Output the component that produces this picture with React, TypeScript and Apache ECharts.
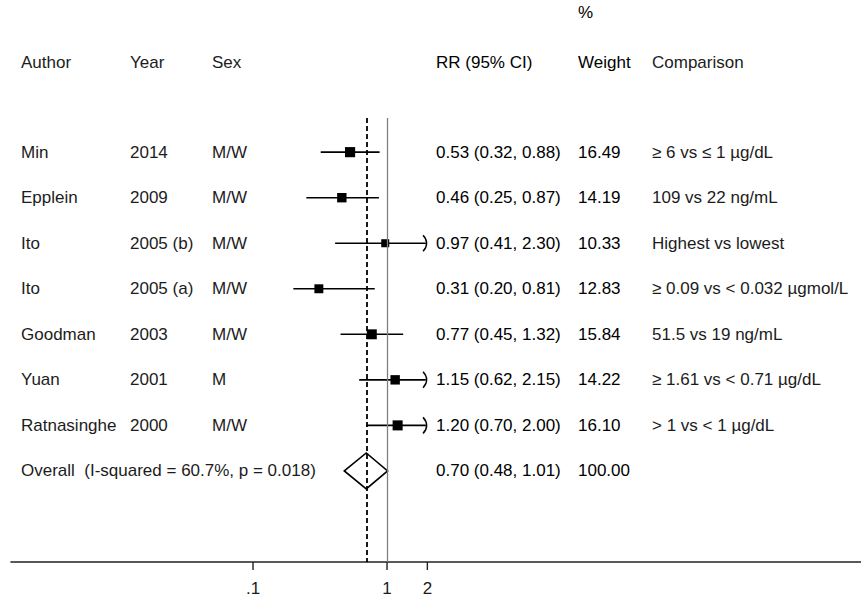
import React, { useEffect, useRef } from "react";
import * as echarts from "echarts";

// ---------- data ----------
const authors = ["Min", "Epplein", "Ito", "Ito", "Goodman", "Yuan", "Ratnasinghe"];
const years = ["2014", "2009", "2005 (b)", "2005 (a)", "2003", "2001", "2000"];
const sexes = ["M/W", "M/W", "M/W", "M/W", "M/W", "M", "M/W"];
const rr = [0.53, 0.46, 0.97, 0.31, 0.77, 1.15, 1.2];
const lower = [0.32, 0.25, 0.41, 0.2, 0.45, 0.62, 0.7];
const upper = [0.88, 0.87, 2.3, 0.81, 1.32, 2.15, 2.0];
const weights = [16.49, 14.19, 10.33, 12.83, 15.84, 14.22, 16.1];
const comparisons = [
  "≥ 6 vs ≤ 1 µg/dL",
  "109 vs 22 ng/mL",
  "Highest vs lowest",
  "≥ 0.09 vs < 0.032 µgmol/L",
  "51.5 vs 19 ng/mL",
  "≥ 1.61 vs < 0.71 µg/dL",
  "> 1 vs < 1 µg/dL",
];
const overallLabel = "Overall  (I-squared = 60.7%, p = 0.018)";
const overallRR = 0.7;
const overallLower = 0.48;
const overallUpper = 1.01;
const overallWeight = 100.0;
const xTicks = [0.1, 1, 2];
const xTickLabels = [".1", "1", "2"];
const headerLabels = ["Author", "Year", "Sex", "RR (95% CI)", "Weight", "Comparison"];
const weightHeaderTop = "%";
const ciDisplayMax = 2;

// ---------- layout / style ----------
const FONT = '"Liberation Sans", Arial, Helvetica, sans-serif';
const FS = 17;
const COL_X = [21, 130, 212, 436, 578, 652];
const DARK = "#000";
const SOFT = "#1c1c1c";

const fmt = (v: number) => v.toFixed(2);

export default function App() {
  const ref = useRef<HTMLDivElement>(null);

  useEffect(() => {
    document.body.style.margin = "0";
    const chart = echarts.init(ref.current!, undefined, { renderer: "svg" });

    const txt = (x: number, y: number, text: string, fill: string, align = "left") => ({
      type: "text",
      style: {
        text,
        x,
        y,
        fill,
        font: `${FS}px ${FONT}`,
        align,
        verticalAlign: "middle",
      },
    });

    const rowsCount = authors.length;
    const tableData = [] as number[][];
    for (let i = 0; i <= rowsCount; i++) tableData.push([1, i]);

    const option: any = {
      animation: false,
      backgroundColor: "#fff",
      grid: { left: 11, right: 0, top: 118, bottom: 36 },
      xAxis: {
        type: "log",
        logBase: 10,
        min: Math.pow(10, -2.806),
        max: Math.pow(10, 3.537),
        axisLine: { show: true, onZero: false, lineStyle: { color: "#222", width: 1.6 } },
        axisTick: { show: false },
        axisLabel: { show: false },
        splitLine: { show: false },
      },
      yAxis: {
        type: "value",
        inverse: true,
        min: -0.75,
        max: 9,
        show: false,
        splitLine: { show: false },
      },
      graphic: [
        {
          type: "group",
          children: [
            {
              type: "text",
              x: COL_X[4],
              y: 12,
              style: { text: weightHeaderTop, fill: DARK, font: `${FS}px ${FONT}`, verticalAlign: "middle" },
            },
            ...headerLabels.map((h, k) => ({
              type: "text",
              x: COL_X[k],
              y: 62,
              style: {
                text: h,
                fill: k === 3 || k === 4 ? DARK : SOFT,
                font: `${FS}px ${FONT}`,
                verticalAlign: "middle",
              },
            })),
          ],
        },
      ],
      series: [
        {
          type: "custom",
          name: "studies",
          coordinateSystem: "cartesian2d",
          clip: false,
          data: rr.map((v, i) => [v, i, lower[i], upper[i], weights[i]]),
          encode: { x: 0, y: 1 },
          renderItem: (params: any, api: any) => {
            const i = api.value(1);
            const p = api.coord([api.value(0), i]);
            const y = p[1];
            const xl = api.coord([api.value(2), i])[0];
            const hi = api.value(3);
            const clipped = hi >= ciDisplayMax;
            const xhRaw = api.coord([Math.min(hi, ciDisplayMax), i])[0];
            const xh = clipped ? xhRaw - 1.5 : xhRaw;
            const s = 2.5 * Math.sqrt(api.value(4));
            const children: any[] = [
              {
                type: "line",
                shape: { x1: xl, y1: y, x2: xh, y2: y },
                style: { stroke: "#000", lineWidth: 1.6 },
              },
              {
                type: "rect",
                shape: { x: p[0] - s / 2, y: y - s / 2, width: s, height: s },
                style: { fill: "#000" },
              },
            ];
            if (clipped) {
              children.push({
                type: "bezierCurve",
                shape: {
                  x1: xhRaw - 4.3,
                  y1: y - 8,
                  x2: xhRaw - 4.3,
                  y2: y + 8,
                  cpx1: xhRaw + 0.4,
                  cpy1: y - 3,
                  cpx2: xhRaw + 0.4,
                  cpy2: y + 3,
                },
                style: { stroke: "#000", fill: "none", lineWidth: 1.5 },
              });
            }
            return { type: "group", children };
          },
          markLine: {
            silent: true,
            symbol: "none",
            label: { show: false },
            data: [
              { xAxis: 1, lineStyle: { color: "#808080", width: 1.3, type: "solid" } },
              { xAxis: overallRR, lineStyle: { color: "#000", width: 1.8, type: [5, 3] } },
            ],
          },
          z: 3,
        },
        {
          type: "custom",
          name: "overall",
          coordinateSystem: "cartesian2d",
          clip: false,
          data: [[overallRR, rowsCount, overallLower, overallUpper]],
          encode: { x: 0, y: 1 },
          renderItem: (params: any, api: any) => {
            const r = api.value(1);
            const c = api.coord([api.value(0), r]);
            const l = api.coord([api.value(2), r]);
            const h = api.coord([api.value(3), r]);
            const hh = 18;
            return {
              type: "polygon",
              shape: {
                points: [
                  [l[0], c[1]],
                  [c[0], c[1] - hh],
                  [h[0], c[1]],
                  [c[0], c[1] + hh],
                ],
              },
              style: { fill: "none", stroke: "#000", lineWidth: 1.6 },
            };
          },
          z: 4,
        },
        {
          type: "custom",
          name: "table",
          coordinateSystem: "cartesian2d",
          clip: false,
          silent: true,
          data: tableData,
          encode: { x: 0, y: 1 },
          renderItem: (params: any, api: any) => {
            const i = api.value(1);
            const y = api.coord([1, i])[1];
            if (i < rowsCount) {
              return {
                type: "group",
                children: [
                  txt(COL_X[0], y, authors[i], SOFT),
                  txt(COL_X[1], y, years[i], SOFT),
                  txt(COL_X[2], y, sexes[i], SOFT),
                  txt(COL_X[3], y, `${fmt(rr[i])} (${fmt(lower[i])}, ${fmt(upper[i])})`, DARK),
                  txt(COL_X[4], y, fmt(weights[i]), DARK),
                  txt(COL_X[5], y, comparisons[i], SOFT),
                ],
              };
            }
            return {
              type: "group",
              children: [
                txt(COL_X[0], y, overallLabel, SOFT),
                txt(COL_X[3], y, `${fmt(overallRR)} (${fmt(overallLower)}, ${fmt(overallUpper)})`, DARK),
                txt(COL_X[4], y, fmt(overallWeight), DARK),
              ],
            };
          },
          z: 5,
        },
        {
          type: "custom",
          name: "xticks",
          coordinateSystem: "cartesian2d",
          clip: false,
          silent: true,
          data: xTicks.map((v) => [v, 9]),
          encode: { x: 0, y: 1 },
          renderItem: (params: any, api: any) => {
            const p = api.coord([api.value(0), api.value(1)]);
            return {
              type: "group",
              children: [
                {
                  type: "line",
                  shape: { x1: p[0], y1: p[1], x2: p[0], y2: p[1] + 8 },
                  style: { stroke: "#222", lineWidth: 1.4 },
                },
                txt(p[0], p[1] + 26, xTickLabels[params.dataIndex], SOFT, "center"),
              ],
            };
          },
          z: 2,
        },
      ],
    };

    chart.setOption(option);
    return () => chart.dispose();
  }, []);

  return <div ref={ref} style={{ width: 861, height: 598 }} />;
}
